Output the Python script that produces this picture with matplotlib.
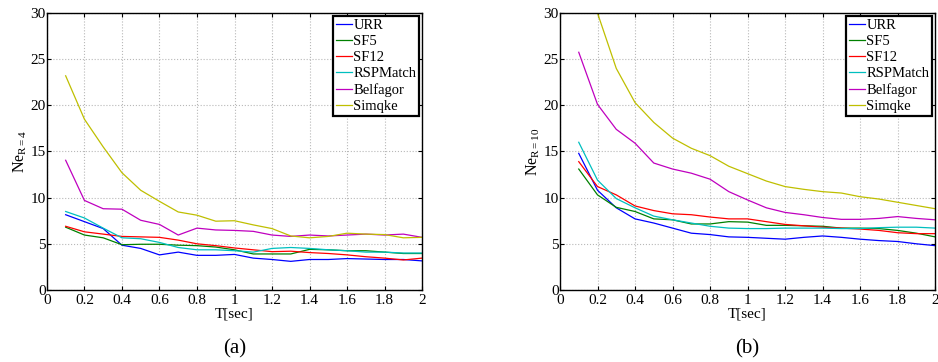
import matplotlib
matplotlib.use("Agg")
import matplotlib.pyplot as plt
import numpy as np

plt.rcParams['font.family'] = ['Liberation Serif', 'DejaVu Serif']
plt.rcParams['mathtext.fontset'] = 'custom'
plt.rcParams['mathtext.rm'] = 'Liberation Serif'
plt.rcParams['mathtext.it'] = 'Liberation Serif:italic'

T = [0.1, 0.2, 0.3, 0.4, 0.5, 0.6, 0.7, 0.8, 0.9, 1.0,
     1.1, 1.2, 1.3, 1.4, 1.5, 1.6, 1.7, 1.8, 1.9, 2.0]
series_names = ["URR", "SF5", "SF12", "RSPMatch", "Belfagor", "Simqke"]
colors = ["#0000ff", "#008000", "#ff0000", "#00bfbf", "#bf00bf", "#bfbf00"]

# Panel (a): Ne_{R=4}
a_URR = [8.15, 7.4, 6.65, 4.85, 4.5, 3.8, 4.1, 3.75, 3.75, 3.85,
         3.45, 3.3, 3.1, 3.3, 3.3, 3.4, 3.35, 3.3, 3.3, 3.15]
a_SF5 = [6.8, 5.95, 5.65, 4.9, 4.95, 4.95, 4.85, 4.8, 4.65, 4.35,
         3.9, 3.9, 3.9, 4.4, 4.35, 4.25, 4.25, 4.1, 3.95, 3.95]
a_SF12 = [6.9, 6.3, 6.05, 5.8, 5.75, 5.7, 5.4, 5.0, 4.8, 4.55,
          4.35, 4.15, 4.2, 4.05, 3.95, 3.8, 3.6, 3.45, 3.25, 3.45]
a_RSP = [8.5, 7.8, 6.7, 5.65, 5.55, 5.15, 4.6, 4.35, 4.35, 4.25,
         4.1, 4.5, 4.6, 4.5, 4.35, 4.25, 4.1, 4.1, 4.0, 4.0]
a_Bel = [14.05, 9.7, 8.8, 8.75, 7.55, 7.1, 5.95, 6.7, 6.5, 6.45,
         6.35, 5.95, 5.8, 5.95, 5.85, 5.95, 6.05, 5.95, 6.05, 5.7]
a_Sim = [23.2, 18.5, 15.5, 12.7, 10.8, 9.6, 8.45, 8.1, 7.45, 7.5,
         7.05, 6.65, 5.85, 5.65, 5.8, 6.15, 6.05, 6.0, 5.65, 5.7]

# Panel (b): Ne_{R=10}
b_URR = [14.8, 10.8, 8.9, 7.7, 7.25, 6.7, 6.15, 6.0, 5.75, 5.7,
         5.6, 5.5, 5.7, 5.85, 5.7, 5.5, 5.35, 5.25, 5.0, 4.8]
b_SF5 = [13.1, 10.3, 8.95, 8.5, 7.7, 7.6, 7.15, 7.15, 7.4, 7.35,
         7.0, 7.0, 6.95, 6.9, 6.7, 6.7, 6.65, 6.45, 6.15, 5.75]
b_SF12 = [13.9, 11.2, 10.3, 9.1, 8.6, 8.25, 8.15, 7.9, 7.7, 7.7,
          7.4, 7.1, 6.95, 6.8, 6.7, 6.6, 6.45, 6.2, 6.1, 6.1]
b_RSP = [16.0, 11.9, 9.9, 8.9, 8.0, 7.6, 7.25, 6.9, 6.7, 6.65,
         6.65, 6.7, 6.7, 6.7, 6.65, 6.65, 6.75, 6.8, 6.8, 6.7]
b_Bel = [25.75, 20.1, 17.4, 15.9, 13.75, 13.1, 12.65, 12.0, 10.65, 9.75,
         8.9, 8.4, 8.15, 7.85, 7.65, 7.65, 7.75, 7.95, 7.75, 7.6]
b_Sim = [38.0, 30.0, 24.0, 20.3, 18.15, 16.45, 15.35, 14.55, 13.4, 12.6,
         11.8, 11.2, 10.9, 10.65, 10.5, 10.1, 9.85, 9.5, 9.15, 8.8]

x_ticks = [0, 0.2, 0.4, 0.6, 0.8, 1, 1.2, 1.4, 1.6, 1.8, 2]
x_ticklabels = ["0", "0.2", "0.4", "0.6", "0.8", "1", "1.2", "1.4", "1.6", "1.8", "2"]
y_ticks = [0, 5, 10, 15, 20, 25, 30]

fig = plt.figure(figsize=(9.38, 3.62), dpi=100)
ax_a = fig.add_axes([0.050, 0.199, 0.400, 0.765])
ax_b = fig.add_axes([0.597, 0.199, 0.400, 0.765])

panels = [
    (ax_a, [a_URR, a_SF5, a_SF12, a_RSP, a_Bel, a_Sim], r'Ne$_{\mathrm{R=4}}$', "(a)"),
    (ax_b, [b_URR, b_SF5, b_SF12, b_RSP, b_Bel, b_Sim], r'Ne$_{\mathrm{R=10}}$', "(b)"),
]

for ax, data, ylab, cap in panels:
    for name, vals, c in zip(series_names, data, colors):
        ax.plot(T, vals, color=c, lw=0.9, label=name)
    ax.set_xlim(0, 2)
    ax.set_ylim(0, 30)
    ax.set_xticks(x_ticks)
    ax.set_xticklabels(x_ticklabels)
    ax.set_yticks(y_ticks)
    ax.tick_params(direction='in', top=True, right=True, labelsize=11, length=3)
    ax.tick_params(axis='x', pad=3)
    ax.tick_params(axis='y', pad=1)
    ax.grid(True, linestyle=':', color='#b8b8b8', lw=0.8)
    for s in ax.spines.values():
        s.set_linewidth(1.0)
    ax.set_xlabel("T[sec]", fontsize=11, labelpad=0.5)
    ax.set_ylabel(ylab, fontsize=11.5, labelpad=1)
    leg = ax.legend(loc='upper right', fontsize=10.5, handlelength=1.1, handletextpad=0.1,
                    borderpad=0.2, labelspacing=0.2, fancybox=False, framealpha=1,
                    borderaxespad=0.2)
    leg.get_frame().set_edgecolor('black')
    leg.get_frame().set_linewidth(1.6)
    pos = ax.get_position()
    fig.text((pos.x0 + pos.x1) / 2, 0.036, cap, ha='center', va='center', fontsize=15)

fig.savefig("out.png", dpi=100)
